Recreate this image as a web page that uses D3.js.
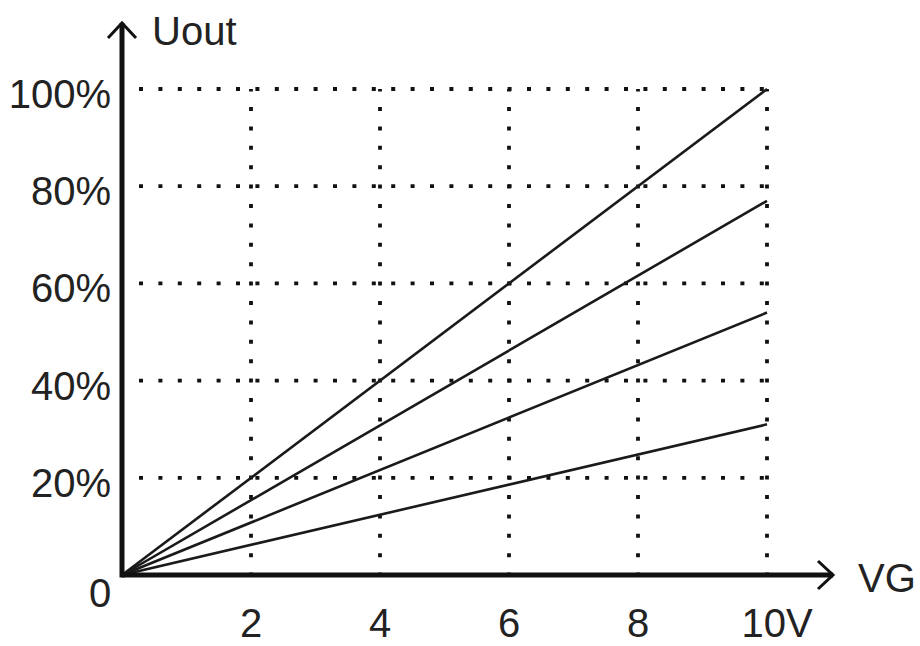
<!DOCTYPE html>
<html>
<head>
<meta charset="utf-8">
<script src="https://cdn.jsdelivr.net/npm/d3@7"></script>
<style>
  body { margin: 0; background: #fff; overflow: hidden; }
  text { font-family: "Liberation Sans", Arial, sans-serif; fill: #222; }
</style>
</head>
<body>
<div id="chart"></div>
<script>
// data
var vgPoints = [0, 10];
var curve100 = [0, 100];
var curve77 = [0, 77];
var curve54 = [0, 54];
var curve31 = [0, 31];
var xTicks = [2, 4, 6, 8, 10];
var xTickLabels = ["2", "4", "6", "8", "10V"];
var yTicks = [20, 40, 60, 80, 100];
var yTickLabels = ["20%", "40%", "60%", "80%", "100%"];

var tot_width = 920, tot_height = 646;
var svg = d3.select("#chart").append("svg")
    .attr("width", tot_width).attr("height", tot_height)
    .style("display", "block");

var x = d3.scaleLinear().domain([0, 10]).range([122, 767]);
var y = d3.scaleLinear().domain([0, 100]).range([575, 89]);

var fontSize = 40;

// dotted grid
var g = svg.append("g");
g.selectAll("line.hgrid")
  .data(yTicks)
  .enter().append("line")
    .attr("class", "hgrid")
    .attr("x1", x(0)).attr("x2", x(10))
    .attr("y1", function(d) { return y(d); })
    .attr("y2", function(d) { return y(d); })
    .attr("stroke", "#111")
    .attr("stroke-width", 3.8)
    .attr("stroke-dasharray", "4 15.4")
    .attr("stroke-dashoffset", 2.4);

g.selectAll("line.vgrid")
  .data(xTicks)
  .enter().append("line")
    .attr("class", "vgrid")
    .attr("x1", function(d) { return x(d); })
    .attr("x2", function(d) { return x(d); })
    .attr("y1", y(100)).attr("y2", y(0))
    .attr("stroke", "#111")
    .attr("stroke-width", 3.8)
    .attr("stroke-dasharray", "4 15.4")
    .attr("stroke-dashoffset", 1.4);

// straight lines
var line = d3.line()
  .x(function(d, i) { return x(vgPoints[i]); })
  .y(function(d) { return y(d); });

g.selectAll("path.curve")
  .data([curve100, curve77, curve54, curve31])
  .enter().append("path")
    .attr("class", "curve")
    .attr("d", line)
    .attr("fill", "none")
    .attr("stroke", "#1a1a1a")
    .attr("stroke-width", 2.6);

// axes
var xEnd = 833, yEnd = 23;
svg.append("line")
  .attr("x1", x(0)).attr("x2", xEnd)
  .attr("y1", y(0)).attr("y2", y(0))
  .attr("stroke", "#111").attr("stroke-width", 5);
svg.append("line")
  .attr("x1", x(0)).attr("x2", x(0))
  .attr("y1", y(0) + 2.5).attr("y2", yEnd)
  .attr("stroke", "#111").attr("stroke-width", 5);

// arrow heads
svg.append("path")
  .attr("d", "M" + (xEnd - 15) + "," + (y(0) - 14) + "L" + xEnd + "," + y(0) + "L" + (xEnd - 15) + "," + (y(0) + 14))
  .attr("fill", "none").attr("stroke", "#111").attr("stroke-width", 3);
svg.append("path")
  .attr("d", "M" + (x(0) - 14) + "," + (yEnd + 15) + "L" + x(0) + "," + yEnd + "L" + (x(0) + 14) + "," + (yEnd + 15))
  .attr("fill", "none").attr("stroke", "#111").attr("stroke-width", 3);

// axis titles
svg.append("text")
  .attr("x", 152).attr("y", 45)
  .style("font-size", fontSize + "px")
  .text("Uout");
svg.append("text")
  .attr("x", 858).attr("y", 592)
  .style("font-size", fontSize + "px")
  .text("VG");

// tick labels
svg.selectAll("text.ylab")
  .data(yTicks)
  .enter().append("text")
    .attr("class", "ylab")
    .attr("x", 111)
    .attr("y", function(d) { return y(d) + 19; })
    .attr("text-anchor", "end")
    .style("font-size", fontSize + "px")
    .text(function(d, i) { return yTickLabels[i]; });

svg.selectAll("text.xlab")
  .data(xTicks)
  .enter().append("text")
    .attr("class", "xlab")
    .attr("x", function(d, i) { return x(d) + (xTickLabels[i].length > 2 ? 10 : 0); })
    .attr("y", 637)
    .attr("text-anchor", "middle")
    .style("font-size", fontSize + "px")
    .text(function(d, i) { return xTickLabels[i]; });

svg.append("text")
  .attr("x", 100).attr("y", 607)
  .attr("text-anchor", "middle")
  .style("font-size", fontSize + "px")
  .text("0");
</script>
</body>
</html>
